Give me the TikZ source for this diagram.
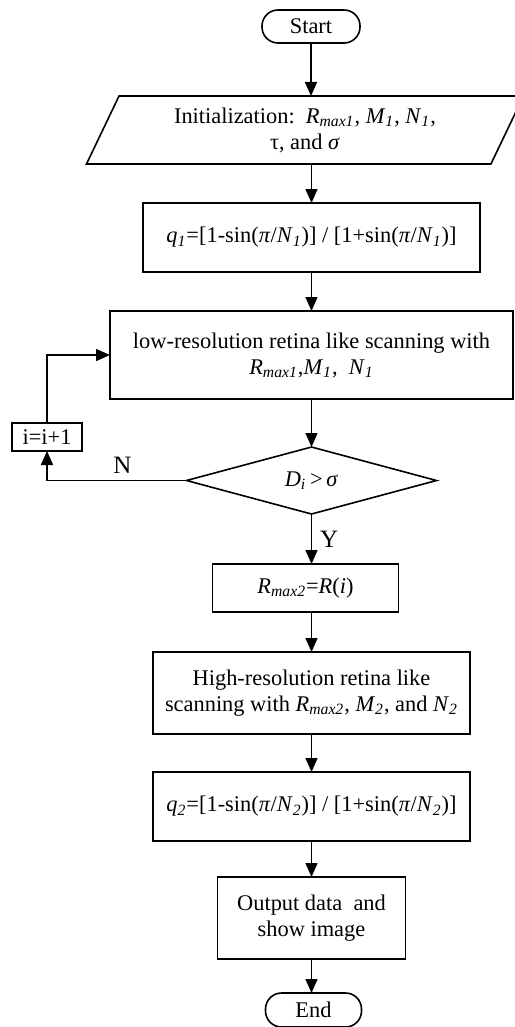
\documentclass[tikz,border=0pt]{standalone}
\usepackage{fontspec}
\setmainfont{Liberation Serif}
\usetikzlibrary{arrows.meta,positioning,shapes.geometric}
% italic symbol with italic subscript
\newcommand\isub[2]{\textit{#1}\textsubscript{\textit{#2}}}

\begin{document}
\begin{tikzpicture}[
every node/.style={font=\fontsize{11.2}{13}\selectfont,outer sep=0pt},
term/.style={draw,line width=0.8pt,rounded corners=8pt,minimum width=49pt,minimum height=16.5pt,inner sep=0pt},
io/.style={draw,line width=0.8pt,trapezium,trapezium left angle=63,trapezium right angle=117,trapezium stretches,minimum width=219pt,minimum height=34pt,align=center,inner sep=0pt},
proc/.style={draw,line width=0.8pt,align=center,inner sep=2pt},
dec/.style={draw,line width=0.8pt,diamond,aspect=3.7,minimum width=125pt,minimum height=33.5pt,inner sep=0pt},
lbl/.style={font=\fontsize{12.5}{14}\selectfont},
arr/.style={-{Triangle[length=7pt,width=6pt]},line width=0.75pt}
]
\useasboundingbox (0,0) rectangle (257pt,-513.5pt);

\node[term] (start) at (155.5pt,-13.25pt) {Start};
\node[io,below=26.5pt of start,xshift=-3pt] (init)
  {Initialization:\ \ \isub{R}{max1}, \isub{M}{1}, \isub{N}{1},\\ τ, and \textit{σ}};
\node[proc,below=19.5pt of init,xshift=3.25pt,minimum width=168.5pt,minimum height=34.5pt] (q1)
  {\isub{q}{1}=[1-sin(\textit{π}/\isub{N}{1})] / [1+sin(\textit{π}/\isub{N}{1})]};
\node[proc,below=19.5pt of q1,minimum width=201.5pt,minimum height=44pt] (low)
  {low-resolution retina like scanning with\\ \isub{R}{max1},\isub{M}{1}, \ \isub{N}{1}};
\node[dec,below=24pt of low] (dia) {\isub{D}{i}\,>\,\textit{σ}};
\node[proc,below=25pt of dia,xshift=-3pt,minimum width=93pt,minimum height=24pt] (rmax)
  {\isub{R}{max2}=\textit{R}(\textit{i})};
\node[proc,below=20pt of rmax,xshift=3pt,minimum width=158.5pt,minimum height=41pt] (high)
  {High-resolution retina like\\ scanning with \isub{R}{max2}, \isub{M}{2}, and \isub{N}{2}};
\node[proc,below=19pt of high,minimum width=158.5pt,minimum height=34.5pt] (q2)
  {\isub{q}{2}=[1-sin(\textit{π}/\isub{N}{2})] / [1+sin(\textit{π}/\isub{N}{2})]};
\node[proc,below=18pt of q2,minimum width=94pt,minimum height=41pt] (out)
  {Output data \ and\\ show image};
\node[term,below=17pt of out,xshift=1pt,minimum width=48pt,minimum height=17pt] (end) {End};

\node[proc,minimum width=35pt,minimum height=14pt,inner sep=1pt] (inc) at (23.5pt,-218.5pt) {i=i+1};

% main flow
\draw[arr] (start) -- (start |- init.north);
\draw[arr] (q1 |- init.south) -- (q1);
\draw[arr] (q1) -- (low);
\draw[arr] (low) -- (dia);
\draw[arr] (dia.south) -- node[right=1pt,lbl] (yes) {Y} (dia.south |- rmax.north);
\draw[arr] (high |- rmax.south) -- (high);
\draw[arr] (high) -- (q2);
\draw[arr] (q2) -- (out);
\draw[arr] (out) -- (out |- end.north);

% loop back
\draw[arr] (dia.west) -| node[pos=0.23,above,lbl] (no) {N} (inc.south);
\draw[arr] (inc.north) |- (low.west);
\end{tikzpicture}
\end{document}
